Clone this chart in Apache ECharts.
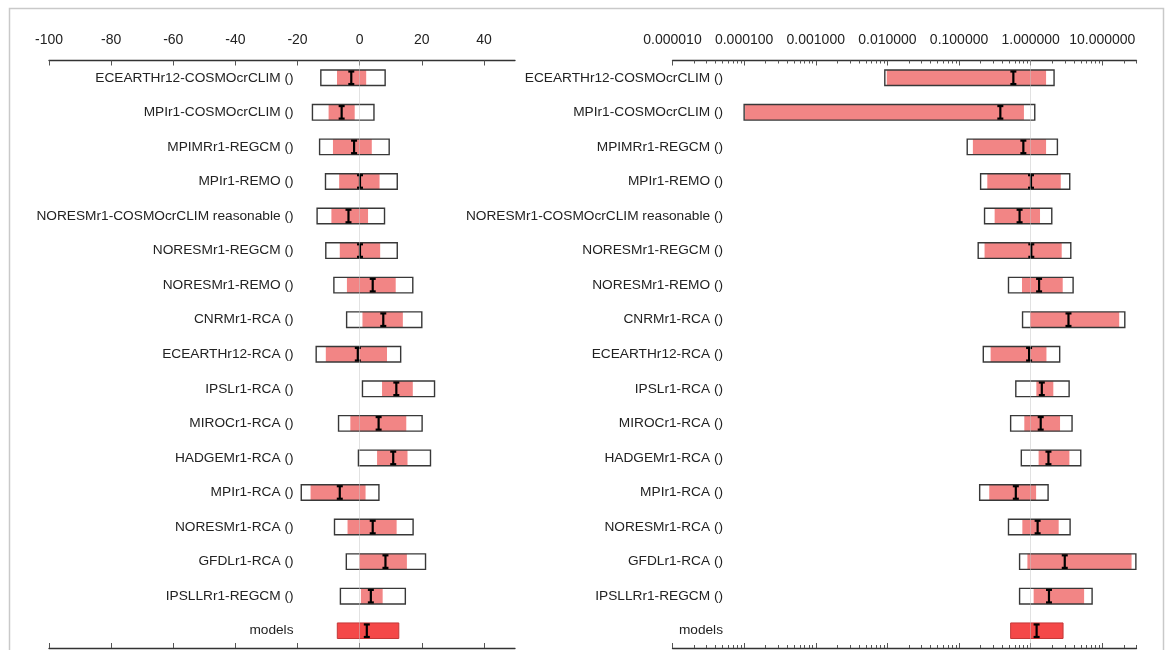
<!DOCTYPE html>
<html>
<head>
<meta charset="utf-8">
<title>Model spread</title>
<script src="https://cdn.jsdelivr.net/npm/echarts@6/dist/echarts.min.js"></script>
<style>
  html, body { margin: 0; padding: 0; background: #fff; }
  #chart { width: 1167px; height: 650px; }
</style>
</head>
<body>
<div id="chart"></div>
<script>
// Row names, top to bottom; the last row is the ensemble of all models
const categories = [
  'ECEARTHr12-COSMOcrCLIM ()',
  'MPIr1-COSMOcrCLIM ()',
  'MPIMRr1-REGCM ()',
  'MPIr1-REMO ()',
  'NORESMr1-COSMOcrCLIM reasonable ()',
  'NORESMr1-REGCM ()',
  'NORESMr1-REMO ()',
  'CNRMr1-RCA ()',
  'ECEARTHr12-RCA ()',
  'IPSLr1-RCA ()',
  'MIROCr1-RCA ()',
  'HADGEMr1-RCA ()',
  'MPIr1-RCA ()',
  'NORESMr1-RCA ()',
  'GFDLr1-RCA ()',
  'IPSLLRr1-REGCM ()',
  'models'
];
const ensembleName = 'models';

// Left panel: change, linear scale
const diffRangeLow  = [-12.5, -15.2, -12.9, -11.0, -13.7, -10.9, -8.3, -4.2, -14.0, 0.9, -6.8, -0.4, -18.8, -8.1, -4.3, -6.2, -7.2];
const diffRangeHigh = [8.2, 4.6, 9.5, 12.1, 8.0, 12.1, 17.1, 20.0, 13.2, 24.1, 20.1, 22.8, 6.2, 17.2, 21.2, 14.7, 12.6];
const diffBoxLow    = [-7.3, -10.0, -8.6, -6.6, -9.1, -6.4, -4.1, 0.9, -10.9, 7.2, -3.0, 5.6, -15.8, -3.9, -0.1, 0.4, -7.2];
const diffBoxHigh   = [2.1, -1.6, 3.9, 6.4, 2.7, 6.6, 11.6, 13.9, 8.8, 17.1, 15.0, 15.4, 1.9, 11.9, 15.2, 7.4, 12.6];
const diffMedian    = [-2.7, -5.8, -1.8, 0.1, -3.6, 0.1, 4.2, 7.6, -0.6, 11.8, 6.1, 10.8, -6.4, 4.2, 8.3, 3.6, 2.3];

// Right panel: ratio, log scale
const ratioRangeLow  = [0.0092, 0.0001, 0.13, 0.2, 0.227, 0.185, 0.49, 0.77, 0.218, 0.62, 0.525, 0.74, 0.194, 0.49, 0.70, 0.70, 0.525];
const ratioRangeHigh = [2.12, 1.14, 2.36, 3.51, 1.97, 3.63, 3.91, 20.6, 2.54, 3.44, 3.78, 5.0, 1.75, 3.55, 29.4, 7.2, 2.83];
const ratioBoxLow    = [0.0098, 0.000103, 0.156, 0.248, 0.314, 0.227, 0.756, 0.98, 0.276, 1.2, 0.815, 1.29, 0.264, 0.765, 0.90, 1.10, 0.525];
const ratioBoxHigh   = [1.64, 0.805, 1.64, 2.63, 1.35, 2.71, 2.8, 17.2, 1.66, 2.07, 2.57, 3.47, 1.19, 2.46, 25.6, 5.57, 2.83];
const ratioMedian    = [0.573, 0.377, 0.79, 1.01, 0.70, 1.02, 1.31, 3.37, 0.95, 1.43, 1.38, 1.77, 0.62, 1.25, 2.99, 1.80, 1.21];

// Axis ticks
const diffTicks = [-100, -80, -60, -40, -20, 0, 20, 40];
const ratioTicks = [0.00001, 0.0001, 0.001, 0.01, 0.1, 1, 10];
const ratioMin = 0.00001;
const ratioMax = 30;

// minor log ticks (2..9 within each decade)
const ratioMinorTicks = [];
ratioTicks.forEach(function (d) {
  for (let m = 2; m <= 9; m++) {
    const v = m * d;
    if (v <= ratioMax * 1.0001) ratioMinorTicks.push(v);
  }
});

const FONT = '"Liberation Sans", Arial, Helvetica, sans-serif';
const AXIS_COLOR = '#333';

function rows(lo, hi, bLo, bHi, med) {
  return categories.map(function (c, i) {
    return [i, lo[i], hi[i], bLo[i], bHi[i], med[i]];
  });
}

function renderBox(params, api) {
  const idx = api.value(0);
  const band = api.size([0, 1])[1];
  const h = band * 0.45;
  const lo = api.coord([api.value(1), idx]);
  const hi = api.coord([api.value(2), idx]);
  const bLo = api.coord([api.value(3), idx]);
  const bHi = api.coord([api.value(4), idx]);
  const med = api.coord([api.value(5), idx]);
  const top = lo[1] - h / 2;
  const children = [];
  if (categories[idx] === ensembleName) {
    children.push({
      type: 'rect',
      shape: { x: bLo[0], y: top, width: bHi[0] - bLo[0], height: h },
      style: { fill: '#F44848', stroke: '#C43838', lineWidth: 1 }
    });
  } else {
    children.push({
      type: 'rect',
      shape: { x: lo[0], y: top, width: hi[0] - lo[0], height: h },
      style: { fill: '#ffffff' }
    });
    children.push({
      type: 'rect',
      shape: { x: bLo[0], y: top, width: bHi[0] - bLo[0], height: h },
      style: { fill: '#F28585' }
    });
    children.push({
      type: 'rect',
      shape: { x: lo[0], y: top, width: hi[0] - lo[0], height: h },
      style: { fill: null, stroke: '#383838', lineWidth: 1.4 }
    });
  }
  const cap = 3;
  const y1 = top + 1.5, y2 = top + h - 1.5;
  const ink = { stroke: '#000', lineWidth: 2.2 };
  children.push({ type: 'line', shape: { x1: med[0], y1: y1, x2: med[0], y2: y2 }, style: ink });
  children.push({ type: 'line', shape: { x1: med[0] - cap, y1: y1, x2: med[0] + cap, y2: y1 }, style: ink });
  children.push({ type: 'line', shape: { x1: med[0] - cap, y1: y2, x2: med[0] + cap, y2: y2 }, style: ink });
  return { type: 'group', children: children };
}

function linearAxis(position, showLabels) {
  return {
    type: 'value',
    gridIndex: 0,
    position: position,
    min: -100,
    max: 50,
    axisLine: { show: true, onZero: false, lineStyle: { color: AXIS_COLOR, width: 1.3 } },
    axisTick: { show: true, inside: true, length: 5, customValues: diffTicks, lineStyle: { color: '#555' } },
    axisLabel: {
      show: showLabels, customValues: diffTicks, margin: 13,
      fontSize: 14, color: '#222', fontFamily: FONT
    },
    splitLine: { show: false }
  };
}

function logAxis(position, ticks, len, showLine, showLabels) {
  return {
    type: 'log',
    logBase: 10,
    gridIndex: 1,
    position: position,
    min: ratioMin,
    max: ratioMax,
    axisLine: { show: showLine, onZero: false, lineStyle: { color: AXIS_COLOR, width: 1.3 } },
    axisTick: { show: true, inside: true, length: len, customValues: ticks, lineStyle: { color: '#555' } },
    axisLabel: {
      show: showLabels, customValues: ratioTicks, margin: 13,
      fontSize: 14, color: '#222', fontFamily: FONT,
      formatter: function (v) { return Number(v).toFixed(6); }
    },
    splitLine: { show: false }
  };
}

function categoryAxis(gridIndex, offset) {
  return {
    type: 'category',
    gridIndex: gridIndex,
    data: categories,
    inverse: true,
    position: 'left',
    offset: offset,
    axisLine: { show: false },
    axisTick: { show: false },
    axisLabel: { margin: 0, fontSize: 13.7, color: '#222', fontFamily: FONT },
    splitLine: { show: false }
  };
}

function refLine(xAxisIndex, yAxisIndex, value) {
  return {
    type: 'line',
    xAxisIndex: xAxisIndex,
    yAxisIndex: yAxisIndex,
    data: [],
    z: 1,
    markLine: {
      silent: true,
      symbol: ['none', 'none'],
      label: { show: false },
      lineStyle: { type: 'dotted', color: '#c4c4c4', width: 1 },
      data: [{ xAxis: value }]
    }
  };
}

const chart = echarts.init(document.getElementById('chart'), null, { renderer: 'canvas' });
chart.setOption({
  animation: false,
  backgroundColor: '#ffffff',
  textStyle: { fontFamily: FONT },
  graphic: [{
    type: 'rect',
    left: 7, top: 6,
    shape: { width: 1154, height: 660 },
    style: { fill: null, stroke: '#c9c9c9', lineWidth: 1.5 },
    silent: true
  }],
  grid: [
    { left: 49, right: 652, top: 60.5, bottom: 2 },
    { left: 672.5, right: 30.5, top: 60.5, bottom: 2 }
  ],
  xAxis: [
    linearAxis('top', true),
    linearAxis('bottom', false),
    logAxis('top', ratioTicks, 5, true, true),
    logAxis('top', ratioMinorTicks, 3, false, false),
    logAxis('bottom', ratioTicks, 5, true, false),
    logAxis('bottom', ratioMinorTicks, 3, false, false)
  ],
  yAxis: [
    categoryAxis(0, -244.5),
    categoryAxis(1, -50.5)
  ],
  series: [
    refLine(0, 0, 0),
    refLine(2, 1, 1),
    {
      type: 'custom',
      xAxisIndex: 0,
      yAxisIndex: 0,
      z: 2,
      renderItem: renderBox,
      encode: { x: [1, 2, 3, 4, 5], y: 0 },
      data: rows(diffRangeLow, diffRangeHigh, diffBoxLow, diffBoxHigh, diffMedian)
    },
    {
      type: 'custom',
      xAxisIndex: 2,
      yAxisIndex: 1,
      z: 2,
      renderItem: renderBox,
      encode: { x: [1, 2, 3, 4, 5], y: 0 },
      data: rows(ratioRangeLow, ratioRangeHigh, ratioBoxLow, ratioBoxHigh, ratioMedian)
    }
  ]
});
</script>
</body>
</html>
